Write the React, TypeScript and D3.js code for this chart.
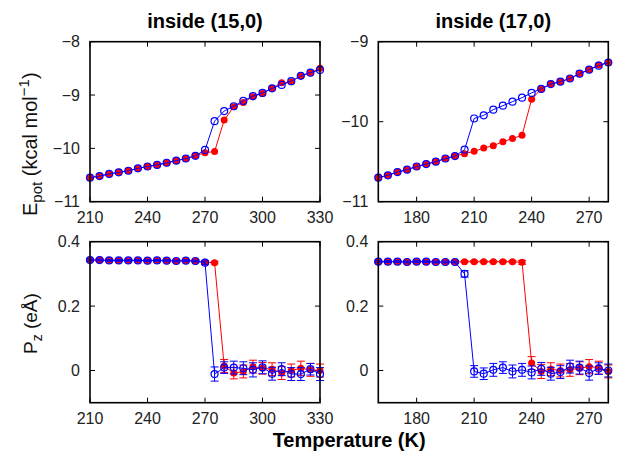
import * as d3 from "d3";

// temperatures (K)
const temps15 = [210, 215, 220, 225, 230, 235, 240, 245, 250, 255, 260, 265, 270, 275, 280, 285, 290, 295, 300, 305, 310, 315, 320, 325, 330];
const temps17 = [160, 165, 170, 175, 180, 185, 190, 195, 200, 205, 210, 215, 220, 225, 230, 235, 240, 245, 250, 255, 260, 265, 270, 275, 280];

// potential energy (kcal/mol)
const epot15Heat = [-10.55, -10.52, -10.48, -10.45, -10.42, -10.375, -10.34, -10.31, -10.27, -10.23, -10.19, -10.14, -10.08, -10.06, -9.47, -9.22, -9.14, -9.03, -8.97, -8.875, -8.77, -8.75, -8.64, -8.58, -8.5];
const epot15Cool = [-10.55, -10.52, -10.48, -10.45, -10.42, -10.375, -10.34, -10.31, -10.27, -10.23, -10.19, -10.14, -10.03, -9.49, -9.3, -9.21, -9.11, -9.02, -8.96, -8.875, -8.81, -8.74, -8.64, -8.58, -8.53];
const epot17Heat = [-10.7, -10.67, -10.63, -10.6, -10.56, -10.53, -10.5, -10.46, -10.43, -10.4, -10.37, -10.33, -10.3, -10.25, -10.21, -10.17, -9.72, -9.59, -9.53, -9.5, -9.46, -9.4, -9.35, -9.29, -9.26];
const epot17Cool = [-10.7, -10.67, -10.63, -10.6, -10.56, -10.53, -10.5, -10.46, -10.43, -10.35, -9.96, -9.92, -9.85, -9.8, -9.75, -9.7, -9.64, -9.59, -9.53, -9.5, -9.46, -9.4, -9.35, -9.3, -9.26];

// dipole P_z (eÅ) and errors
const pz15Heat = [0.343, 0.343, 0.342, 0.342, 0.342, 0.342, 0.341, 0.342, 0.341, 0.34, 0.341, 0.34, 0.336, 0.335, 0.014, -0.008, -0.003, 0.012, 0.007, 0.004, -0.008, 0.0, 0.007, 0.002, 0.0];
const pz15HeatErr = [0.003, 0.003, 0.003, 0.003, 0.003, 0.003, 0.003, 0.003, 0.003, 0.003, 0.003, 0.003, 0.004, 0.004, 0.02, 0.018, 0.02, 0.02, 0.018, 0.02, 0.02, 0.02, 0.022, 0.02, 0.02];
const pz15Cool = [0.343, 0.343, 0.342, 0.342, 0.342, 0.342, 0.341, 0.342, 0.341, 0.34, 0.341, 0.34, 0.335, -0.011, 0.009, 0.009, 0.007, 0.002, 0.01, -0.01, 0.004, -0.011, -0.011, 0.004, -0.011];
const pz15CoolErr = [0.003, 0.003, 0.003, 0.003, 0.003, 0.003, 0.003, 0.003, 0.003, 0.003, 0.003, 0.003, 0.005, 0.022, 0.018, 0.02, 0.02, 0.022, 0.02, 0.02, 0.02, 0.02, 0.02, 0.018, 0.02];
const pz17Heat = [0.338, 0.338, 0.338, 0.337, 0.338, 0.338, 0.337, 0.337, 0.337, 0.338, 0.338, 0.338, 0.338, 0.338, 0.338, 0.336, 0.023, -0.003, 0.004, 0.0, 0.002, 0.007, 0.012, 0.009, -0.003];
const pz17HeatErr = [0.003, 0.003, 0.003, 0.003, 0.003, 0.003, 0.003, 0.003, 0.003, 0.003, 0.003, 0.003, 0.003, 0.003, 0.003, 0.006, 0.02, 0.022, 0.02, 0.02, 0.02, 0.02, 0.022, 0.02, 0.02];
const pz17Cool = [0.338, 0.338, 0.338, 0.337, 0.338, 0.338, 0.337, 0.337, 0.337, 0.3, -0.003, -0.01, 0.002, 0.009, -0.003, 0.002, -0.006, 0.005, -0.01, -0.005, 0.012, 0.009, -0.008, 0.006, 0.0];
const pz17CoolErr = [0.003, 0.003, 0.003, 0.003, 0.003, 0.003, 0.003, 0.003, 0.003, 0.01, 0.018, 0.018, 0.02, 0.018, 0.02, 0.02, 0.02, 0.02, 0.02, 0.02, 0.02, 0.02, 0.022, 0.018, 0.02];

// axis ticks
const xTicks15 = [210, 240, 270, 300, 330];
const xTicks17 = [180, 210, 240, 270];
const yTicksE15 = [-11, -10, -9, -8];
const yTicksE17 = [-11, -10, -9];
const yTicksP = [0, 0.2, 0.4];

const titles = ["inside (15,0)", "inside (17,0)"];

const RED = "#ff0000";
const BLUE = "#0000ff";
const FONT = "'Liberation Sans', Arial, Helvetica, sans-serif";

type Series = { t: number[]; v: number[]; err?: number[]; color: string; filled: boolean };

const Panel = ({ left, top, w, h, xDomain, yDomain, xTicks, yTicks, yFmt, series }: any) => {
  const x = d3.scaleLinear().domain(xDomain).range([left, left + w]);
  const y = d3.scaleLinear().domain(yDomain).range([top + h, top]);
  const tk = 5;
  const line = d3
    .line<[number, number]>()
    .x((d) => x(d[0]))
    .y((d) => y(d[1]));

  return (
    <g>
      {/* ticks on all four sides, inward */}
      {xTicks.map((t: number) => (
        <g key={"x" + t}>
          <line x1={x(t)} x2={x(t)} y1={top + h} y2={top + h - tk} stroke="#000" strokeWidth={1} />
          <line x1={x(t)} x2={x(t)} y1={top} y2={top + tk} stroke="#000" strokeWidth={1} />
          <text x={x(t)} y={top + h + 21} textAnchor="middle" fontSize={16} fontFamily={FONT} fill="#222">
            {t}
          </text>
        </g>
      ))}
      {yTicks.map((t: number) => (
        <g key={"y" + t}>
          <line x1={left} x2={left + tk} y1={y(t)} y2={y(t)} stroke="#000" strokeWidth={1} />
          <line x1={left + w} x2={left + w - tk} y1={y(t)} y2={y(t)} stroke="#000" strokeWidth={1} />
          <text x={left - 10} y={y(t)} dy="0.35em" textAnchor="end" fontSize={16} fontFamily={FONT} fill="#222">
            {yFmt(t)}
          </text>
        </g>
      ))}

      {series.map((s: Series, i: number) => {
        const pts = s.t.map((t, j) => [t, s.v[j]] as [number, number]);
        return (
          <g key={i}>
            <path d={line(pts) || ""} fill="none" stroke={s.color} strokeWidth={1} />
            {s.err &&
              pts.map((p, j) => {
                const cx = x(p[0]);
                const y1 = y(p[1] - s.err![j]);
                const y2 = y(p[1] + s.err![j]);
                return (
                  <g key={"e" + j} stroke={s.color} strokeWidth={1}>
                    <line x1={cx} x2={cx} y1={y1} y2={y2} />
                    <line x1={cx - 4} x2={cx + 4} y1={y1} y2={y1} />
                    <line x1={cx - 4} x2={cx + 4} y1={y2} y2={y2} />
                  </g>
                );
              })}
            {pts.map((p, j) =>
              s.filled ? (
                <circle key={"p" + j} cx={x(p[0])} cy={y(p[1])} r={3.5} fill={s.color} />
              ) : (
                <circle key={"p" + j} cx={x(p[0])} cy={y(p[1])} r={3.5} fill="none" stroke={s.color} strokeWidth={1.2} />
              )
            )}
          </g>
        );
      })}

      <rect x={left} y={top} width={w} height={h} fill="none" stroke="#000" strokeWidth={1.6} />
    </g>
  );
};

const App = () => {
  const W = 618;
  const H = 455;
  const colL = 90;
  const colR = 378.3;
  const pw = 230;
  const rowT = 41.7;
  const rowB = 241.7;
  const hT = 160;
  const hB = 161;
  const fmtE = (d: number) => d3.format("d")(d);
  const fmtP = (d: number) => (d === 0 ? "0" : d3.format(".1f")(d));

  return (
    <svg width={W} height={H} style={{ position: "absolute", left: 0, top: 0, background: "#fff" }}>
      <rect width={W} height={H} fill="#fff" />

      <text x={colL + pw / 2} y={28} textAnchor="middle" fontSize={20} fontWeight="bold" fontFamily={FONT}>
        {titles[0]}
      </text>
      <text x={colR + pw / 2} y={28} textAnchor="middle" fontSize={20} fontWeight="bold" fontFamily={FONT}>
        {titles[1]}
      </text>

      <Panel
        left={colL}
        top={rowT}
        w={pw}
        h={hT}
        xDomain={[210, 330]}
        yDomain={[-11, -8]}
        xTicks={xTicks15}
        yTicks={yTicksE15}
        yFmt={fmtE}
        series={[
          { t: temps15, v: epot15Heat, color: RED, filled: true },
          { t: temps15, v: epot15Cool, color: BLUE, filled: false },
        ]}
      />
      <Panel
        left={colR}
        top={rowT}
        w={pw}
        h={hT}
        xDomain={[160, 280]}
        yDomain={[-11, -9]}
        xTicks={xTicks17}
        yTicks={yTicksE17}
        yFmt={fmtE}
        series={[
          { t: temps17, v: epot17Heat, color: RED, filled: true },
          { t: temps17, v: epot17Cool, color: BLUE, filled: false },
        ]}
      />
      <Panel
        left={colL}
        top={rowB}
        w={pw}
        h={hB}
        xDomain={[210, 330]}
        yDomain={[-0.1, 0.4]}
        xTicks={xTicks15}
        yTicks={yTicksP}
        yFmt={fmtP}
        series={[
          { t: temps15, v: pz15Heat, err: pz15HeatErr, color: RED, filled: true },
          { t: temps15, v: pz15Cool, err: pz15CoolErr, color: BLUE, filled: false },
        ]}
      />
      <Panel
        left={colR}
        top={rowB}
        w={pw}
        h={hB}
        xDomain={[160, 280]}
        yDomain={[-0.1, 0.4]}
        xTicks={xTicks17}
        yTicks={yTicksP}
        yFmt={fmtP}
        series={[
          { t: temps17, v: pz17Heat, err: pz17HeatErr, color: RED, filled: true },
          { t: temps17, v: pz17Cool, err: pz17CoolErr, color: BLUE, filled: false },
        ]}
      />

      {/* axis titles */}
      <text transform="translate(37,216) rotate(-90)" fontSize={20} fontFamily={FONT} fill="#111">
        E<tspan fontSize={15} dy={5}>pot</tspan>
        <tspan dy={-5}> (kcal mol</tspan>
        <tspan fontSize={15} dy={-8}>−1</tspan>
        <tspan dy={8}>)</tspan>
      </text>
      <text transform="translate(37,354) rotate(-90)" fontSize={19} fontFamily={FONT} fill="#111">
        P<tspan fontSize={14} dy={5}>z</tspan>
        <tspan dy={-5}> (eÅ)</tspan>
      </text>
      <text x={(colL + colR + pw) / 2} y={447} textAnchor="middle" fontSize={20} fontWeight="bold" fontFamily={FONT}>
        Temperature (K)
      </text>
    </svg>
  );
};

export default App;
